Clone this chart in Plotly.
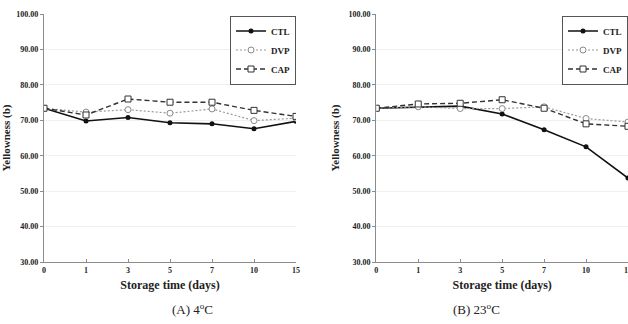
import plotly.graph_objects as go

days = ["0", "1", "3", "5", "7", "10", "15"]
y_ticks = [30, 40, 50, 60, 70, 80, 90, 100]
y_tick_labels = ["30.00", "40.00", "50.00", "60.00", "70.00", "80.00", "90.00", "100.00"]

ctl_4 = [73.4, 69.8, 70.8, 69.3, 69.0, 67.6, 69.7]
dvp_4 = [73.4, 72.3, 73.0, 72.0, 73.2, 69.9, 70.6]
cap_4 = [73.4, 71.5, 76.0, 75.1, 75.1, 72.8, 71.1]

ctl_23 = [73.4, 73.8, 74.0, 71.8, 67.3, 62.5, 53.7]
dvp_23 = [73.4, 73.8, 73.3, 73.3, 73.8, 70.5, 69.5]
cap_23 = [73.4, 74.6, 74.8, 75.8, 73.4, 69.0, 68.3]

SERIF = "Liberation Serif, Times New Roman, serif"
TXT = "#222222"

styles = {
    "CTL": dict(line=dict(color="#111111", width=1.6, dash="solid"),
                marker=dict(symbol="circle", size=5, color="#111111")),
    "DVP": dict(line=dict(color="#9a9a9a", width=1.2, dash="2px,2px"),
                marker=dict(symbol="circle", size=6, color="white",
                            line=dict(color="#8a8a8a", width=1))),
    "CAP": dict(line=dict(color="#333333", width=1.4, dash="5px,3px"),
                marker=dict(symbol="square", size=6, color="white",
                            line=dict(color="#333333", width=1))),
}

fig = go.Figure()
panels = [
    ("x", "y", "legend", {"CTL": ctl_4, "DVP": dvp_4, "CAP": cap_4}),
    ("x2", "y2", "legend2", {"CTL": ctl_23, "DVP": dvp_23, "CAP": cap_23}),
]
for xa, ya, lg, series in panels:
    for name, vals in series.items():
        fig.add_trace(go.Scatter(
            x=list(range(len(days))), y=vals, name=name, mode="lines+markers",
            xaxis=xa, yaxis=ya, legend=lg, **styles[name]))

axis_common_y = dict(
    range=[30, 100], tickvals=y_ticks, ticktext=y_tick_labels,
    showline=True, linecolor="#8c8c8c", linewidth=1.2,
    showgrid=True, gridcolor="#efefef", gridwidth=1,
    ticks="outside", ticklen=3, tickcolor="#8c8c8c",
    tickfont=dict(family=SERIF, size=8, color=TXT, weight="bold"),
    zeroline=False, automargin=False,
    title=dict(text="Yellowness (b)", standoff=6,
               font=dict(family=SERIF, size=11, color=TXT, weight="bold")),
)
axis_common_x = dict(
    range=[0, 6], tickvals=list(range(len(days))), ticktext=days,
    showline=True, linecolor="#8c8c8c", linewidth=1.2,
    showgrid=False, zeroline=False, automargin=False,
    ticks="inside", ticklen=3, tickcolor="#8c8c8c",
    tickfont=dict(family=SERIF, size=8, color=TXT, weight="bold"),
    ticklabeloverflow="allow",
    title=dict(text="Storage time (days)", standoff=6,
               font=dict(family=SERIF, size=12, color=TXT, weight="bold")),
)

legend_common = dict(
    yanchor="top", xanchor="right",
    bordercolor="#555555", borderwidth=1, bgcolor="white",
    font=dict(family=SERIF, size=9, color=TXT, weight="bold"),
    itemwidth=30, tracegroupgap=0,
)

fig.update_layout(
    width=628, height=324,
    margin=dict(l=0, r=0, t=0, b=0, autoexpand=False),
    paper_bgcolor="white", plot_bgcolor="white",
    font=dict(family=SERIF, color=TXT),
    xaxis=dict(domain=[44 / 628, 296 / 628], anchor="y", **axis_common_x),
    yaxis=dict(domain=[1 - 262 / 324, 1 - 14 / 324], anchor="x", **axis_common_y),
    xaxis2=dict(domain=[376.3 / 628, 1.0], anchor="y2", **axis_common_x),
    yaxis2=dict(domain=[1 - 262 / 324, 1 - 14 / 324], anchor="x2", **axis_common_y),
    legend=dict(x=296 / 628, y=1 - 15.5 / 324, **legend_common),
    legend2=dict(x=1.0, y=1 - 15.5 / 324, **legend_common),
    annotations=[
        dict(text="(A) 4<sup>o</sup>C", x=170 / 628, y=1 - 319 / 324, xref="paper", yref="paper",
             yanchor="bottom", showarrow=False, font=dict(family=SERIF, size=13, color=TXT)),
        dict(text="(B) 23<sup>o</sup>C", x=502 / 628, y=1 - 319 / 324, xref="paper", yref="paper",
             yanchor="bottom", showarrow=False, font=dict(family=SERIF, size=13, color=TXT)),
    ],
)

fig.write_html("out.html")
